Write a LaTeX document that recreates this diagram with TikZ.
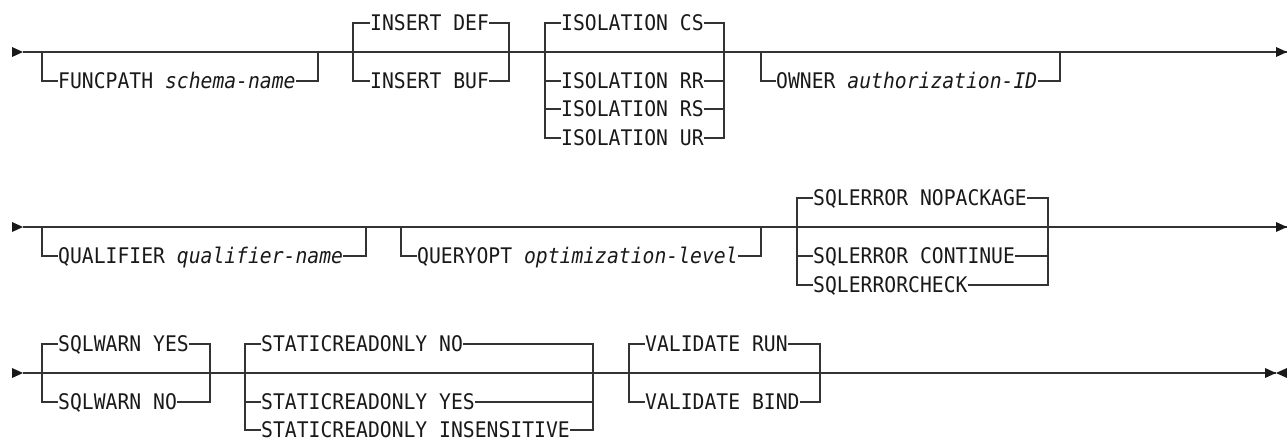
\documentclass[tikz,border=0pt]{standalone}
\usepackage{fontspec}
\setmonofont[FakeStretch=0.917]{DejaVu Sans Mono}
\usepackage{tikz}
\newcommand{\railFont}[0]{\ttfamily\fontsize{21.5}{22}\selectfont}
\newcommand{\var}[1]{\textit{#1}}

\begin{document}
\begin{tikzpicture}[x=1pt, y=-1pt]
  \tikzset{kw/.style={anchor=west, inner sep=0pt, text=black!90, font=\railFont,
      text height=15.7pt, text depth=0pt}}
  \tikzset{rail/.style={draw=black!80, line width=1.2pt}}
  \tikzset{railtip/.style={fill=black!90}}
  \tikzset{railgo/.pic={\fill[railtip] (-11,-5) -- (0,0) -- (-11,5) -- cycle;}}
  \tikzset{railback/.pic={\fill[railtip] (11,-5) -- (0,0) -- (11,5) -- cycle;}}
  \useasboundingbox (0,0) rectangle (1287,439);

  % first line
  \coordinate (r1begin) at (23,52);
  \coordinate (r1end) at (1287,52);
  \draw[rail] (r1begin) -- (r1end);
  \pic at (r1begin) {railgo};
  \pic at (r1end) {railgo};

  \node[kw] (funcpath) at (58,81) {FUNCPATH \var{schema-name}};
  \coordinate (funcpathIn) at (42,52);
  \coordinate (funcpathOut) at (318,52);
  \draw[rail] (funcpathIn) |- (funcpath.west);
  \draw[rail] (funcpath.east) -| (funcpathOut);

  \node[kw] (insdef) at (370,23) {INSERT DEF};
  \node[kw] (insbuf) at (370,81) {INSERT BUF};
  \coordinate (insertIn) at (353,52);
  \coordinate (insertOut) at (509,52);
  \draw[rail] (insdef.west) -| (insertIn) |- (insbuf.west);
  \draw[rail] (insdef.east) -| (insertOut) |- (insbuf.east);

  \node[kw] (isocs) at (561,23) {ISOLATION CS};
  \node[kw] (isorr) at (561,81) {ISOLATION RR};
  \node[kw] (isors) at (561,109) {ISOLATION RS};
  \node[kw] (isour) at (561,138) {ISOLATION UR};
  \coordinate (isoIn) at (545,52);
  \coordinate (isoOut) at (724,52);
  \draw[rail] (isocs.west) -| (isoIn) (isocs.east) -| (isoOut);
  \foreach \n in {isorr,isors,isour}
    \draw[rail] (isoIn) |- (\n.west) (\n.east) -| (isoOut);

  \node[kw] (owner) at (776,81) {OWNER \var{authorization-ID}};
  \coordinate (ownerIn) at (761,52);
  \coordinate (ownerOut) at (1060,52);
  \draw[rail] (ownerIn) |- (owner.west);
  \draw[rail] (owner.east) -| (ownerOut);

  % second line
  \coordinate (r2begin) at (23,227);
  \coordinate (r2end) at (1287,227);
  \draw[rail] (r2begin) -- (r2end);
  \pic at (r2begin) {railgo};
  \pic at (r2end) {railgo};

  \node[kw] (qualifier) at (58,256) {QUALIFIER \var{qualifier-name}};
  \coordinate (qualifierIn) at (42,227);
  \coordinate (qualifierOut) at (366,227);
  \draw[rail] (qualifierIn) |- (qualifier.west);
  \draw[rail] (qualifier.east) -| (qualifierOut);

  \node[kw] (queryopt) at (417,256) {QUERYOPT \var{optimization-level}};
  \coordinate (queryoptIn) at (401,227);
  \coordinate (queryoptOut) at (761,227);
  \draw[rail] (queryoptIn) |- (queryopt.west);
  \draw[rail] (queryopt.east) -| (queryoptOut);

  \node[kw] (errnopkg) at (813,198) {SQLERROR NOPACKAGE};
  \node[kw] (errcont) at (813,256) {SQLERROR CONTINUE};
  \node[kw] (errcheck) at (813,285) {SQLERRORCHECK};
  \coordinate (sqlerrorIn) at (797,227);
  \coordinate (sqlerrorOut) at (1048,227);
  \draw[rail] (errnopkg.west) -| (sqlerrorIn) (errnopkg.east) -| (sqlerrorOut);
  \foreach \n in {errcont,errcheck}
    \draw[rail] (sqlerrorIn) |- (\n.west) (\n.east) -| (sqlerrorOut);

  % third line
  \coordinate (r3begin) at (23,373);
  \coordinate (r3end) at (1276,373);
  \draw[rail] (r3begin) -- (r3end);
  \pic at (r3begin) {railgo};
  \pic at (r3end) {railgo};
  \pic at (r3end) {railback};

  \node[kw] (warnyes) at (58,344) {SQLWARN YES};
  \node[kw] (warnno) at (58,402) {SQLWARN NO};
  \coordinate (sqlwarnIn) at (42,373);
  \coordinate (sqlwarnOut) at (210,373);
  \draw[rail] (warnyes.west) -| (sqlwarnIn) |- (warnno.west);
  \draw[rail] (warnyes.east) -| (sqlwarnOut) |- (warnno.east);

  \node[kw] (staticno) at (261,344) {STATICREADONLY NO};
  \node[kw] (staticyes) at (261,402) {STATICREADONLY YES};
  \node[kw] (staticins) at (261,430) {STATICREADONLY INSENSITIVE};
  \coordinate (staticIn) at (245,373);
  \coordinate (staticOut) at (593,373);
  \draw[rail] (staticno.west) -| (staticIn) (staticno.east) -| (staticOut);
  \foreach \n in {staticyes,staticins}
    \draw[rail] (staticIn) |- (\n.west) (\n.east) -| (staticOut);

  \node[kw] (valrun) at (645,344) {VALIDATE RUN};
  \node[kw] (valbind) at (645,402) {VALIDATE BIND};
  \coordinate (validateIn) at (629,373);
  \coordinate (validateOut) at (820,373);
  \draw[rail] (valrun.west) -| (validateIn) |- (valbind.west);
  \draw[rail] (valrun.east) -| (validateOut) |- (valbind.east);
  \draw[rail, line width=2pt] (validateOut) -- ++(30,0);
\end{tikzpicture}
\end{document}
